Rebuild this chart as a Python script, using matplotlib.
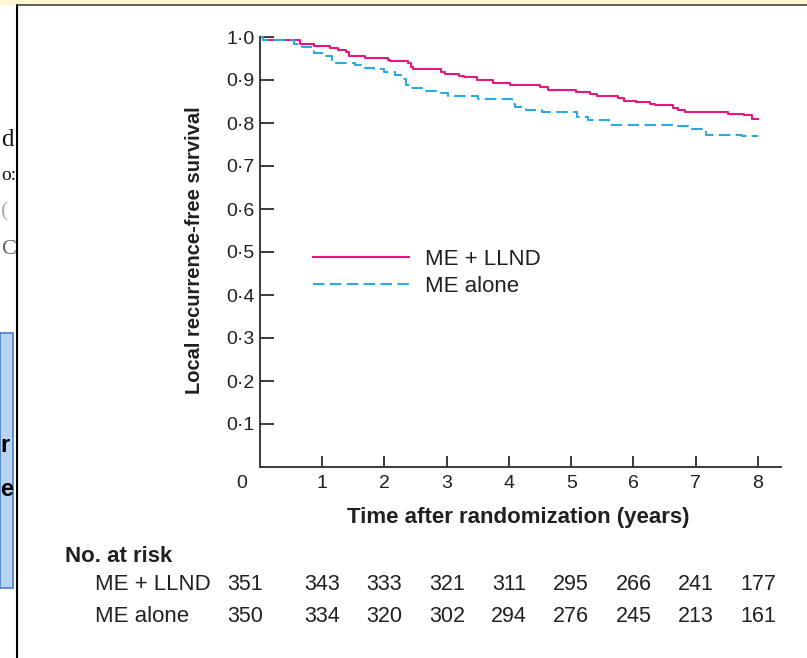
import matplotlib.pyplot as plt
import matplotlib.patches as mpatches
import matplotlib.transforms as mtransforms
import numpy as np

plt.rcParams['font.family'] = ['Liberation Sans', 'DejaVu Sans']

# Kaplan-Meier step data (time in years, survival)
llnd_t = [0, 0.05, 0.64, 0.86, 0.95, 1.12, 1.26, 1.38, 1.43, 1.69, 2.06, 2.09, 2.37, 2.43,
          2.46, 2.91, 2.97, 3.20, 3.28, 3.48, 3.74, 4.02, 4.50, 4.62, 5.07, 5.30, 5.41,
          5.75, 5.84, 6.04, 6.26, 6.35, 6.63, 6.72, 6.83, 7.52, 7.77, 7.91, 8.0]
llnd_s = [1.0, 0.993, 0.984, 0.980, 0.978, 0.974, 0.969, 0.965, 0.956, 0.952, 0.947, 0.944,
          0.939, 0.931, 0.926, 0.919, 0.914, 0.910, 0.906, 0.900, 0.894, 0.888, 0.883, 0.877,
          0.872, 0.867, 0.862, 0.857, 0.852, 0.848, 0.845, 0.841, 0.836, 0.831, 0.826, 0.822,
          0.818, 0.810, 0.810]

alone_t = [0, 0.05, 0.55, 0.67, 0.86, 1.03, 1.15, 1.52, 1.69, 1.83, 2.00, 2.17, 2.26, 2.34,
           2.43, 2.65, 2.91, 3.02, 3.51, 4.05, 4.10, 4.28, 4.53, 5.10, 5.27, 5.61, 6.69,
           6.89, 7.17, 7.74, 8.0]
alone_s = [1.0, 0.993, 0.984, 0.977, 0.962, 0.955, 0.939, 0.935, 0.929, 0.925, 0.918, 0.912,
           0.902, 0.888, 0.882, 0.875, 0.870, 0.862, 0.855, 0.845, 0.837, 0.830, 0.826, 0.814,
           0.808, 0.796, 0.792, 0.787, 0.773, 0.770, 0.770]

groups = ['ME + LLND', 'ME alone']
risk_llnd = [351, 343, 333, 321, 311, 295, 266, 241, 177]
risk_alone = [350, 334, 320, 302, 294, 276, 245, 213, 161]

x_ticks = [1, 2, 3, 4, 5, 6, 7, 8]
y_ticks = [0.1, 0.2, 0.3, 0.4, 0.5, 0.6, 0.7, 0.8, 0.9, 1.0]
y_labels = ['0·1', '0·2', '0·3', '0·4', '0·5', '0·6', '0·7', '0·8', '0·9', '1·0']

W, H = 807, 658
magenta = '#E8177F'
cyan = '#2AAAE2'
ink = '#231F20'

fig = plt.figure(figsize=(W / 100, H / 100), dpi=100)


def fx(x):
    return x / W


def fy(y):
    return 1 - y / H


# slide bits around the figure
fig.patches.append(mpatches.Rectangle((0, fy(5)), 1, 5 / H, transform=fig.transFigure,
                                      facecolor='#FDF6D3', edgecolor='none'))
fig.add_artist(plt.Line2D([fx(17), fx(17)], [0, fy(5)], transform=fig.transFigure,
                          color='black', lw=1.5))
fig.add_artist(plt.Line2D([fx(17), 1], [fy(5), fy(5)], transform=fig.transFigure,
                          color='#444444', lw=1.2))
box = mpatches.Rectangle((0, fy(588)), fx(13), (588 - 333) / H, transform=fig.transFigure,
                         facecolor='#B9D3F3', edgecolor='#4A7EC0', lw=1.2)
fig.patches.append(box)
for txt, yy, col, fs in [('d', 140, '#111111', 18), ('o:', 176, '#111111', 14),
                         ('(', 212, '#AAAAAA', 16), ('C', 250, '#666666', 16)]:
    fig.text(fx(1), fy(yy), txt, ha='left', va='center', fontsize=fs,
             family='Liberation Serif', color=col)
for txt, yy in [('r', 445), ('e', 490)]:
    fig.text(fx(0.5), fy(yy), txt, ha='left', va='center', fontsize=17,
             fontweight='bold', color='black')

ax = fig.add_axes([fx(260), fy(467), (781 - 260) / W, (467 - 37) / H])
ax.step(llnd_t, llnd_s, where='post', color=magenta, lw=1.5, clip_on=False,
        label=groups[0])
ax.step(alone_t, alone_s, where='post', color=cyan, lw=1.5, dashes=(5.5, 2.6),
        clip_on=False, label=groups[1])

ax.set_xlim(0, 8.37)
ax.set_ylim(0, 1.0)
for s in ['top', 'right']:
    ax.spines[s].set_visible(False)
for s in ['left', 'bottom']:
    ax.spines[s].set_color('#3A3A3A')
    ax.spines[s].set_linewidth(1.4)

ax.set_xticks(x_ticks)
ax.set_xticklabels([str(v) for v in x_ticks])
ax.set_yticks(y_ticks)
ax.set_yticklabels(y_labels)
ax.tick_params(axis='y', direction='in', length=10, width=1.4, color='#3A3A3A',
               pad=4, labelsize=14, labelcolor=ink)
ax.tick_params(axis='x', direction='in', length=8, width=1.4, color='#3A3A3A',
               pad=6, labelsize=14, labelcolor=ink)
fig.text(fx(242), fy(484), '0', ha='center', va='center', fontsize=14, color=ink)

ax.set_ylabel('Local recurrence-free survival', fontsize=14.5, fontweight='bold',
              color=ink, va='center')
ax.yaxis.set_label_coords((194 - 260) / 521, (467 - 250) / 430)
ax.set_xlabel('Time after randomization (years)', fontsize=16, fontweight='bold',
              color=ink, va='center')
ax.xaxis.set_label_coords((518 - 260) / 521, (467 - 518) / 430)

leg = ax.legend(loc='upper left', bbox_to_anchor=(0.1017, 0.507), frameon=False,
                fontsize=16, handlelength=4.3, handletextpad=0.75, borderpad=0,
                labelspacing=0.25, borderaxespad=0)
for t in leg.get_texts():
    t.set_color(ink)

# numbers at risk
fig.text(fx(65), fy(556), 'No. at risk', ha='left', va='center', fontsize=16,
         fontweight='bold', color=ink)
blend = mtransforms.blended_transform_factory(ax.transData, fig.transFigure)
for name, counts, yy in [(groups[0], risk_llnd, 584), (groups[1], risk_alone, 617)]:
    fig.text(fx(95), fy(yy), name, ha='left', va='center', fontsize=16, color=ink)
    xs = [-0.24] + x_ticks
    for xv, c in zip(xs, counts):
        ax.text(xv, fy(yy), str(c), transform=blend, ha='center', va='center',
                fontsize=15.5, color=ink)

fig.savefig('out.png', dpi=100)
